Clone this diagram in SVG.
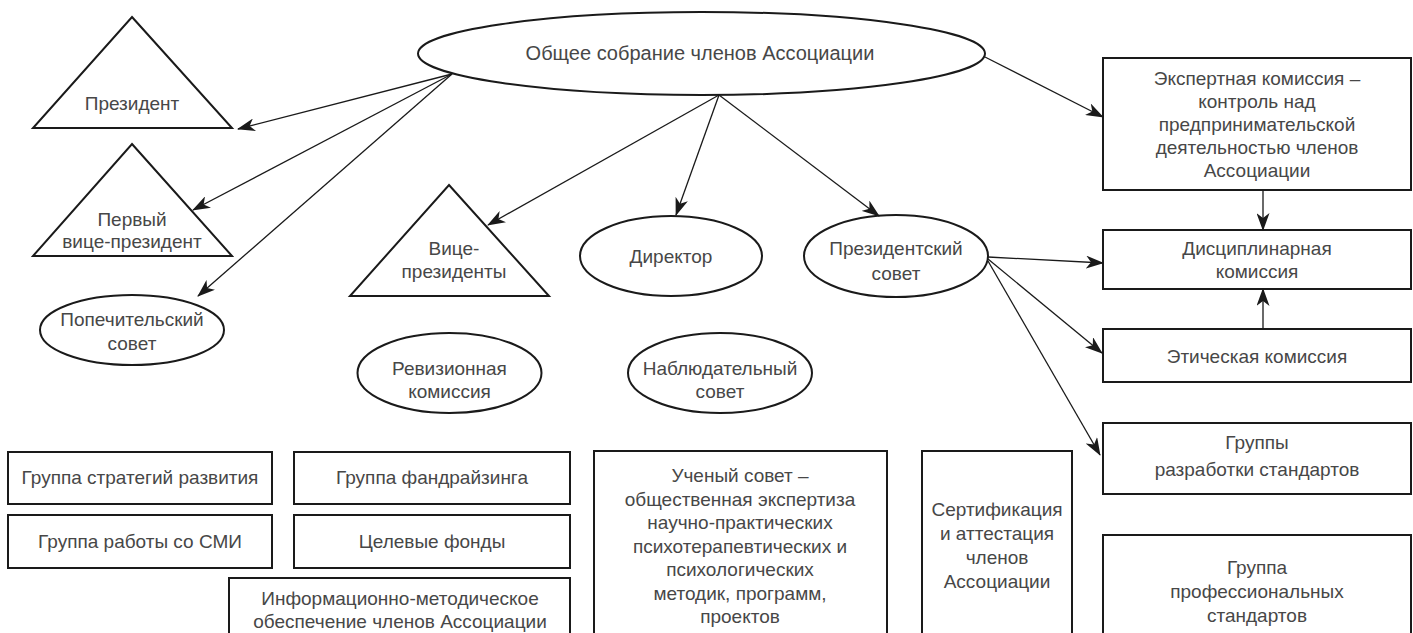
<svg xmlns="http://www.w3.org/2000/svg" width="1413" height="633" viewBox="0 0 1413 633">
<style>
.s{fill:#fff;stroke:#1a1a1a;stroke-width:2}
.t{font-family:"Liberation Sans",Arial,sans-serif;font-size:19px;fill:#474747;text-anchor:middle}
.c{stroke:#1a1a1a;stroke-width:1.3;fill:none;marker-end:url(#ah)}
</style>
<defs>
<marker id="ah" markerUnits="userSpaceOnUse" markerWidth="18" markerHeight="13" viewBox="0 0 18 13" refX="17" refY="6.5" orient="auto">
<path d="M0,0 L18,6.5 L0,13 L5,6.5 Z" fill="#1a1a1a"/>
</marker>
</defs>
<rect width="1413" height="633" fill="#fff"/>
<g id="n-main"><ellipse class="s" cx="701.5" cy="53.5" rx="283.5" ry="41.5"/><text class="t" x="700" y="60" style="font-size:20px">Общее собрание членов Ассоциации</text></g>
<g id="n-president"><polygon class="s" points="132,17 232,128 33,128"/><text class="t" x="132" y="110">Президент</text></g>
<g id="n-firstvp"><polygon class="s" points="132,144 232,256 33,256"/><text class="t" x="132" y="226">Первый</text><text class="t" x="132" y="248">вице-президент</text></g>
<g id="n-popech"><ellipse class="s" cx="132" cy="330" rx="92" ry="35"/><text class="t" x="132" y="326">Попечительский</text><text class="t" x="132" y="350">совет</text></g>
<g id="n-vp"><polygon class="s" points="449,185 549,296 350,296"/><text class="t" x="454" y="255">Вице-</text><text class="t" x="454" y="278">президенты</text></g>
<g id="n-director"><ellipse class="s" cx="671" cy="256" rx="91" ry="40"/><text class="t" x="671" y="263">Директор</text></g>
<g id="n-prescouncil"><ellipse class="s" cx="896" cy="256" rx="92" ry="41"/><text class="t" x="896" y="255">Президентский</text><text class="t" x="896" y="280">совет</text></g>
<g id="n-revision"><ellipse class="s" cx="449.5" cy="373" rx="92" ry="40"/><text class="t" x="449.5" y="375">Ревизионная</text><text class="t" x="449.5" y="398">комиссия</text></g>
<g id="n-observ"><ellipse class="s" cx="720" cy="373" rx="92" ry="40"/><text class="t" x="720" y="375">Наблюдательный</text><text class="t" x="720" y="398">совет</text></g>
<g id="n-expert"><rect class="s" x="1103" y="58" width="308" height="132"/><text class="t" x="1257" y="85">Экспертная комиссия –</text><text class="t" x="1257" y="108">контроль над</text><text class="t" x="1257" y="131">предпринимательской</text><text class="t" x="1257" y="154">деятельностью членов</text><text class="t" x="1257" y="177">Ассоциации</text></g>
<g id="n-discipl"><rect class="s" x="1103" y="230" width="308" height="59"/><text class="t" x="1257" y="255">Дисциплинарная</text><text class="t" x="1257" y="278">комиссия</text></g>
<g id="n-ethics"><rect class="s" x="1103" y="329" width="308" height="53"/><text class="t" x="1257" y="363">Этическая комиссия</text></g>
<g id="n-groupsstd"><rect class="s" x="1103" y="423" width="308" height="71"/><text class="t" x="1257" y="449">Группы</text><text class="t" x="1257" y="476">разработки стандартов</text></g>
<g id="n-profstd"><rect class="s" x="1103" y="535" width="308" height="110"/><text class="t" x="1257" y="574">Группа</text><text class="t" x="1257" y="598">профессиональных</text><text class="t" x="1257" y="622">стандартов</text></g>
<g id="n-science"><rect class="s" x="594" y="451" width="293" height="195"/><text class="t" x="740" y="482">Ученый совет –</text><text class="t" x="740" y="505.5">общественная экспертиза</text><text class="t" x="740" y="529">научно-практических</text><text class="t" x="740" y="552.5">психотерапевтических и</text><text class="t" x="740" y="576">психологических</text><text class="t" x="740" y="599.5">методик, программ,</text><text class="t" x="740" y="623">проектов</text></g>
<g id="n-cert"><rect class="s" x="922" y="451" width="150" height="195"/><text class="t" x="997" y="516">Сертификация</text><text class="t" x="997" y="540">и аттестация</text><text class="t" x="997" y="564">членов</text><text class="t" x="997" y="588">Ассоциации</text></g>
<g id="n-strat"><rect class="s" x="8" y="452" width="264" height="52"/><text class="t" x="140" y="484">Группа стратегий развития</text></g>
<g id="n-smi"><rect class="s" x="8" y="515" width="264" height="53"/><text class="t" x="140" y="548">Группа работы со СМИ</text></g>
<g id="n-fund"><rect class="s" x="294" y="452" width="276" height="52"/><text class="t" x="432" y="484">Группа фандрайзинга</text></g>
<g id="n-target"><rect class="s" x="294" y="515" width="276" height="53"/><text class="t" x="432" y="548">Целевые фонды</text></g>
<g id="n-info"><rect class="s" x="229" y="578" width="341" height="70"/><text class="t" x="400" y="605">Информационно-методическое</text><text class="t" x="400" y="628">обеспечение членов Ассоциации</text></g>
<g id="connectors">
<line class="c" x1="452" y1="74" x2="238" y2="129"/>
<line class="c" x1="452" y1="74" x2="193" y2="210"/>
<line class="c" x1="452" y1="74" x2="198" y2="296"/>
<line class="c" x1="719" y1="95" x2="488" y2="225"/>
<line class="c" x1="719" y1="95" x2="676" y2="215"/>
<line class="c" x1="719" y1="95" x2="879" y2="216"/>
<line class="c" x1="985" y1="57" x2="1103" y2="117"/>
<line class="c" x1="1263" y1="190" x2="1263" y2="230"/>
<line class="c" x1="1263" y1="329" x2="1263" y2="289"/>
<line class="c" x1="988" y1="257" x2="1103" y2="263"/>
<line class="c" x1="988" y1="259" x2="1102" y2="353"/>
<line class="c" x1="988" y1="261" x2="1100" y2="455"/>
</g>
</svg>
